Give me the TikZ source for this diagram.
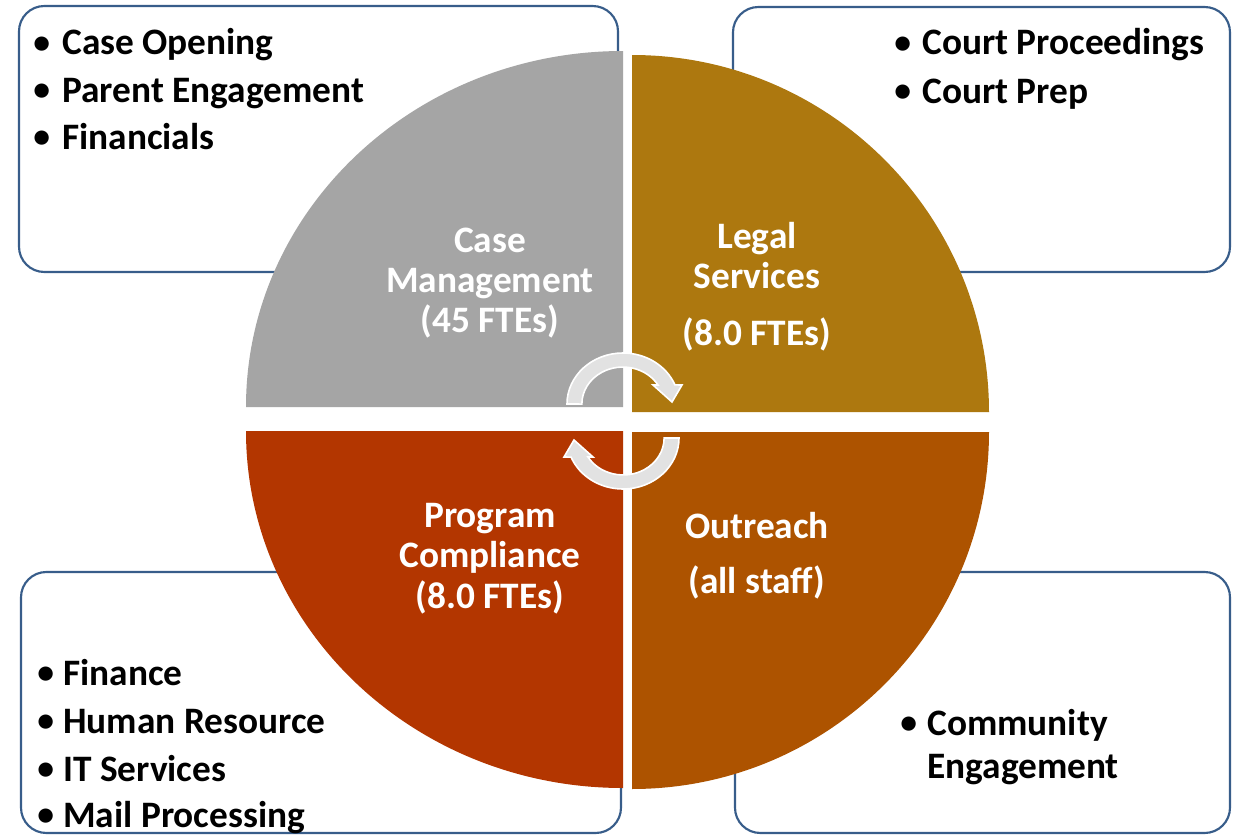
\documentclass[tikz,border=0pt]{standalone}
\usepackage{fontspec}
\setmainfont{Carlito}
\newdimen\pxu \pxu=0.75pt
\newcommand{\bulmark}[1]{\llap{\makebox[#1\pxu][l]{\raisebox{1.2pt}{\scalebox{0.9}{•}}}}}
\definecolor{qgray}{HTML}{A5A5A5}
\definecolor{qgold}{HTML}{AD780F}
\definecolor{qred}{HTML}{B33600}
\definecolor{qorange}{HTML}{AD5300}
\definecolor{boxblue}{HTML}{385D8A}
\definecolor{arrowfill}{HTML}{E2E2E2}
\begin{document}
\begin{tikzpicture}[x=0.75pt,y=-0.75pt,
  infobox/.style={draw=boxblue,line width=1.6pt,rounded corners=19pt,fill=white},
  listtext/.style={anchor=base west,inner sep=0pt,font=\bfseries\fontsize{28}{33}\selectfont,text=black},
  quadlabel/.style={anchor=base,inner sep=0pt,font=\bfseries\fontsize{28}{33}\selectfont,text=white},
  cyclearrow/.style={fill=arrowfill,draw=white,line width=1.2pt,line join=miter}]
\useasboundingbox (0,0) rectangle (1233,835);
\fill[white] (0,0) rectangle (1233,835);
% boxes
\draw[infobox] (19,6) rectangle (618,272);
\draw[infobox] (733,7) rectangle (1230,272);
\draw[infobox] (21,572) rectangle (621,833);
\draw[infobox] (735,572) rectangle (1230,833);
% quadrants
\fill[qgray] (623,407) -- (246,407) arc[start angle=180,end angle=270,x radius=377,y radius=356] -- cycle;
\fill[qgold] (632,412) -- (632,55) arc[start angle=270,end angle=360,radius=357] -- cycle;
\fill[qorange] (632,432) -- (989,432) arc[start angle=0,end angle=90,radius=357] -- cycle;
\fill[qred] (623,431) -- (623,788) arc[start angle=90,end angle=180,x radius=377,y radius=357] -- cycle;
% cycle arrows
\path[cyclearrow] (567,404) arc[start angle=180,end angle=338,x radius=56,y radius=51]
  -- (682,385) -- (672,402) -- (653,385) -- (658,385)
  arc[start angle=329,end angle=180,x radius=41,y radius=37] -- cycle;
\begin{scope}[rotate around={180:(623,421)}]
\path[cyclearrow] (567,404) arc[start angle=180,end angle=338,x radius=56,y radius=51]
  -- (682,385) -- (672,402) -- (653,385) -- (658,385)
  arc[start angle=329,end angle=180,x radius=41,y radius=37] -- cycle;
\end{scope}
% quadrant labels
\node[quadlabel] (cm1) at (490,252) {Case};
\node[quadlabel] (cm2) at (490,292) {Management};
\node[quadlabel] (cm3) at (490,332) {(45 FTEs)};
\node[quadlabel] (ls1) at (757,248) {Legal};
\node[quadlabel] (ls2) at (757,288) {Services};
\node[quadlabel] (ls3) at (757,345) {(8.0 FTEs)};
\node[quadlabel] (pc1) at (490,527) {Program};
\node[quadlabel] (pc2) at (490,567) {Compliance};
\node[quadlabel] (pc3) at (490,608) {(8.0 FTEs)};
\node[quadlabel] (or1) at (757,538) {Outreach};
\node[quadlabel] (or2) at (757,593) {(all staff)};
% list texts
\node[listtext] (tl1) at (62,55) {\bulmark{29}Case Opening};
\node[listtext] (tl2) at (62,102) {\bulmark{29}Parent Engagement};
\node[listtext] (tl3) at (62,149) {\bulmark{29}Financials};
\node[listtext] (tr1) at (922,55) {\bulmark{28}Court Proceedings};
\node[listtext] (tr2) at (922,103) {\bulmark{28}Court Prep};
\node[listtext] (bl1) at (63,685) {\bulmark{26}Finance};
\node[listtext] (bl2) at (63,733) {\bulmark{26}Human Resource};
\node[listtext] (bl3) at (63,781) {\bulmark{26}IT Services};
\node[listtext] (bl4) at (63,827) {\bulmark{26}Mail Processing};
\node[listtext] (br1) at (927,735) {\bulmark{27}Community};
\node[listtext] (br2) at (927,778) {Engagement};
\end{tikzpicture}
\end{document}
